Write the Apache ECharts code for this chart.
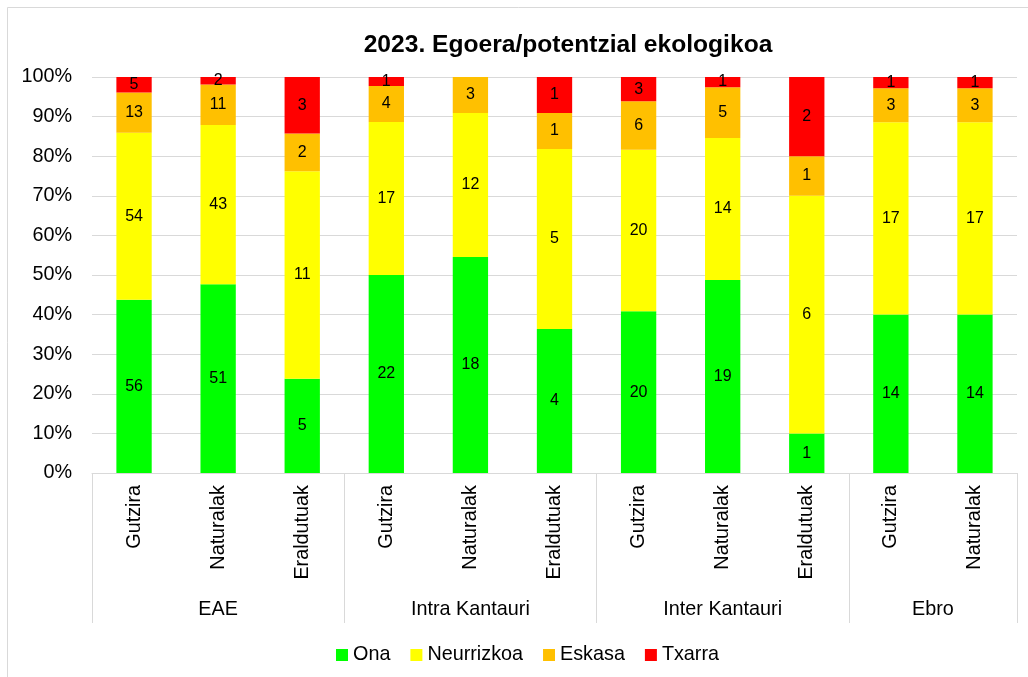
<!DOCTYPE html>
<html>
<head>
<meta charset="utf-8">
<script src="https://cdn.jsdelivr.net/npm/echarts@6/dist/echarts.min.js"></script>
<style>
html,body{margin:0;padding:0;background:#fff;}
#chart{width:1028px;height:677px;}
</style>
</head>
<body>
<div id="chart"></div>
<script>
const categories = ['Gutzira','Naturalak','Eraldutuak','Gutzira','Naturalak','Eraldutuak','Gutzira','Naturalak','Eraldutuak','Gutzira','Naturalak'];
const groups = ['EAE','Intra Kantauri','Inter Kantauri','Ebro'];
const groupSizes = [3,3,3,2];
const ona =        [56,51,5,22,18,4,20,19,1,14,14];
const neurrizkoa = [54,43,11,17,12,5,20,14,6,17,17];
const eskasa =     [13,11,2,4,3,1,6,5,1,3,3];
const txarra =     [5,2,3,1,0,1,3,1,2,1,1];
const seriesNames = ['Ona','Neurrizkoa','Eskasa','Txarra'];
const seriesColors = ['#00ff00','#ffff00','#ffc000','#ff0000'];
const yTicks = [0,10,20,30,40,50,60,70,80,90,100];

const counts = [ona, neurrizkoa, eskasa, txarra];
const totals = categories.map((_, i) => counts.reduce((s, arr) => s + arr[i], 0));

// group boundary and center positions on the category scale
const bounds = [0];
groupSizes.forEach(n => bounds.push(bounds[bounds.length - 1] + n));
const centers = groupSizes.map((n, i) => bounds[i] + n / 2);

const FONT = 'Liberation Sans, Arial, sans-serif';
const chart = echarts.init(document.getElementById('chart'));

const series = counts.map((arr, k) => ({
  name: seriesNames[k],
  type: 'bar',
  stack: 'total',
  barWidth: '42%',
  xAxisIndex: 0,
  itemStyle: { color: seriesColors[k] },
  label: {
    show: true,
    position: 'inside',
    color: '#000',
    fontSize: 16,
    fontFamily: FONT,
    formatter: p => arr[p.dataIndex] === 0 ? '' : String(arr[p.dataIndex])
  },
  data: arr.map((v, i) => v / totals[i] * 100)
}));

chart.setOption({
  animation: false,
  backgroundColor: '#fff',
  title: {
    text: '2023. Egoera/potentzial ekologikoa',
    left: 563,
    top: 28,
    textAlign: 'center',
    textStyle: { fontSize: 24.6, fontWeight: 'bold', color: '#000', fontFamily: FONT }
  },
  graphic: [{
    type: 'rect',
    shape: { x: 7.5, y: 7.5, width: 1040, height: 700 },
    style: { fill: 'none', stroke: '#d9d9d9', lineWidth: 1 },
    silent: true
  }],
  legend: {
    data: seriesNames,
    left: 331,
    top: 640,
    icon: 'rect',
    itemWidth: 12,
    itemHeight: 12,
    itemGap: 20,
    textStyle: { fontSize: 19.8, color: '#000', fontFamily: FONT }
  },
  grid: { left: 92, right: 11, top: 77, bottom: 204, containLabel: false },
  xAxis: [{
    type: 'category',
    data: categories,
    position: 'bottom',
    axisLine: { show: true, lineStyle: { color: '#d9d9d9', width: 1 } },
    axisTick: { show: false },
    axisLabel: { rotate: 90, margin: 12, fontSize: 19.8, color: '#000', fontFamily: FONT, interval: 0 }
  }, {
    type: 'value',
    min: 0,
    max: categories.length,
    position: 'bottom',
    axisLine: { show: false },
    splitLine: { show: false },
    axisTick: {
      show: true,
      customValues: bounds,
      length: 150,
      lineStyle: { color: '#d9d9d9', width: 1 }
    },
    axisLabel: {
      show: true,
      customValues: centers,
      margin: 127,
      fontSize: 19.8,
      color: '#000',
      fontFamily: FONT,
      formatter: v => {
        const i = centers.indexOf(v);
        return i >= 0 ? groups[i] : '';
      }
    }
  }],
  yAxis: {
    type: 'value',
    min: 0,
    max: 100,
    interval: 10,
    axisLine: { show: false },
    axisTick: { show: false },
    splitLine: { lineStyle: { color: '#d9d9d9', width: 1 } },
    axisLabel: {
      margin: 20,
      fontSize: 19.8,
      color: '#000',
      fontFamily: FONT,
      customValues: yTicks,
      formatter: v => v + '%'
    }
  },
  series: series
});
</script>
</body>
</html>
